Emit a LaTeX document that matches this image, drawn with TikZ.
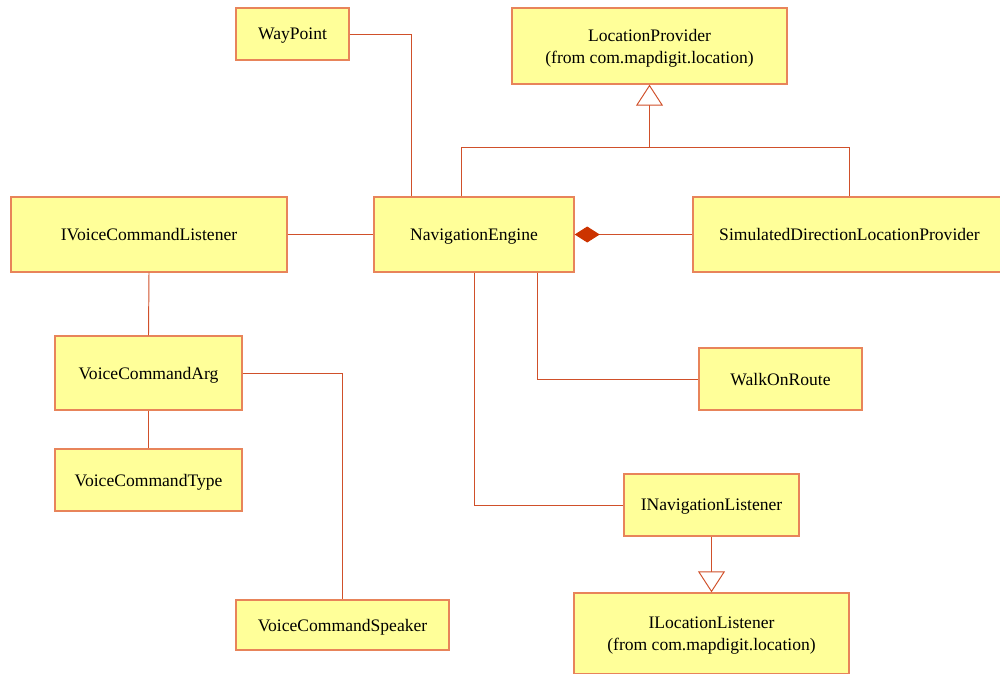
\documentclass[tikz,border=0pt]{standalone}
\usepackage{fontspec}
\setmainfont{Liberation Serif}
\usetikzlibrary{arrows.meta}
\definecolor{boxfill}{HTML}{FFFF99}
\definecolor{boxline}{HTML}{E8845A}
\definecolor{conn}{HTML}{D0502A}
\definecolor{dia}{HTML}{CC3300}
\tikzset{
  cls/.style={draw=boxline, fill=boxfill, line width=0.8pt, inner sep=0pt, align=center, text depth=0pt, font=\fontsize{10}{12.5}\selectfont},
  link/.style={draw=conn, line width=0.55pt},
  inherit/.style={link, -{Triangle[open, length=0.42cm, width=0.54cm, fill=white]}},
  compose/.style={link, {Diamond[length=0.5cm, width=0.32cm, fill=dia, color=dia]}-}
}
\begin{document}
\begin{tikzpicture}[x=0.02cm, y=-0.02cm]
\useasboundingbox (0,0) rectangle (1000,673);
\node[cls, minimum width=113*0.02cm, minimum height=52*0.02cm] (way) at (292.5,34) {WayPoint};
\node[cls, minimum width=275*0.02cm, minimum height=76*0.02cm] (lp) at (649.5,46) {LocationProvider\\(from com.mapdigit.location)};
\node[cls, minimum width=276*0.02cm, minimum height=75*0.02cm] (ivcl) at (149,234.5) {IVoiceCommandListener};
\node[cls, minimum width=200*0.02cm, minimum height=75*0.02cm] (nav) at (474,234.5) {NavigationEngine};
\node[cls, minimum width=313*0.02cm, minimum height=75*0.02cm] (sim) at (849.5,234.5) {SimulatedDirectionLocationProvider};
\node[cls, minimum width=187*0.02cm, minimum height=74*0.02cm] (vca) at (148.5,373) {VoiceCommandArg};
\node[cls, minimum width=187*0.02cm, minimum height=62*0.02cm] (vct) at (148.5,480) {VoiceCommandType};
\node[cls, minimum width=213*0.02cm, minimum height=50*0.02cm] (vcs) at (342.5,625) {VoiceCommandSpeaker};
\node[cls, minimum width=163*0.02cm, minimum height=62*0.02cm] (wor) at (780.5,379) {WalkOnRoute};
\node[cls, minimum width=175*0.02cm, minimum height=62*0.02cm] (inl) at (711.5,505) {INavigationListener};
\node[cls, minimum width=275*0.02cm, minimum height=81*0.02cm] (ill) at (711.5,633.5) {ILocationListener\\(from com.mapdigit.location)};
\coordinate (xway) at (411,0);
\coordinate (xnavl) at (461,0);
\coordinate (xsim) at (849,0);
\coordinate (ybar) at (0,147);
\coordinate (xwor) at (537,0);
\coordinate (xinl) at (474,0);
% connectors
\draw[link] (way.east) -| (xway |- nav.north);
\draw[link] (xnavl |- nav.north) |- (xsim |- ybar) -- (xsim |- sim.north);
\draw[inherit] (lp.south |- ybar) -- (lp.south);
\draw[link] (ivcl.east) -- (nav.west);
\draw[compose] (nav.east) -- (sim.west);
\draw[link] (ivcl.south) -- (vca.north);
\draw[link] (vca.south) -- (vct.north);
\draw[link] (vca.east) -| (vcs.north);
\draw[link] (xwor |- nav.south) |- (wor.west);
\draw[link] (xinl |- nav.south) |- (inl.west);
\draw[inherit] (inl.south) -- (ill.north);
\end{tikzpicture}
\end{document}
